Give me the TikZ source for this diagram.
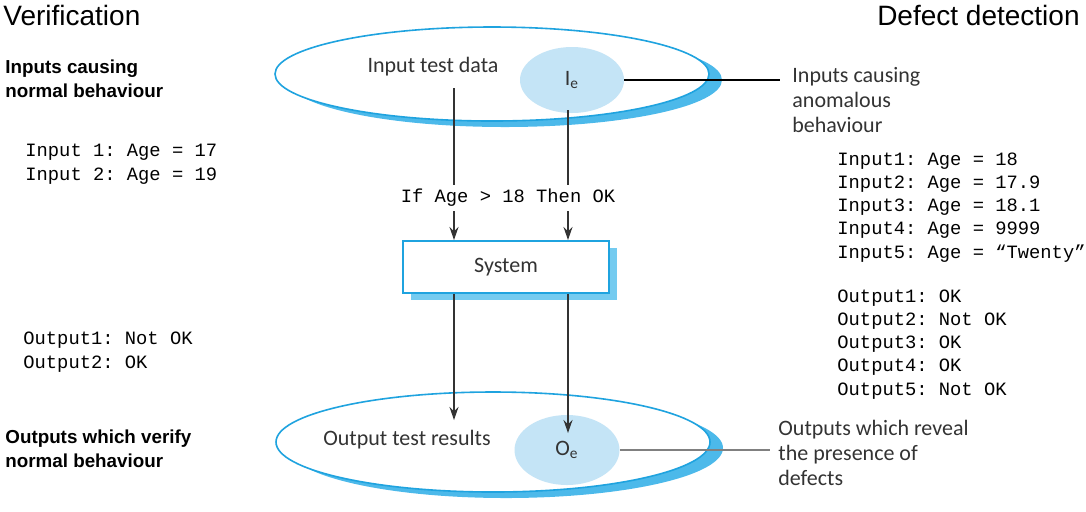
\documentclass[tikz,border=0pt]{standalone}
\usepackage{fontspec}
\setmainfont{Liberation Sans}
\setmonofont{Liberation Mono}
\newfontfamily\figfont{Carlito}
\usepackage{tikz}
\usetikzlibrary{arrows.meta,positioning,shapes.geometric,shadows}
\definecolor{edgeBlue}{HTML}{1FA3DF}
\definecolor{shadeBlue}{HTML}{4CB9EA}
\definecolor{boxShade}{HTML}{74CBF0}
\definecolor{subBlue}{HTML}{C4E4F6}
\definecolor{labelGrey}{HTML}{333333}

\begin{document}
\begin{tikzpicture}[x=0.5pt, y=-0.5pt,
  setell/.style={ellipse, draw=edgeBlue, line width=0.8pt, fill=white, inner sep=0pt,
    general shadow={shadow xshift=6.5pt, shadow yshift=-3pt, fill=shadeBlue}},
  subset/.style={ellipse, fill=subBlue, inner sep=0pt, font=\figfont\fontsize{11}{12}\selectfont,
    text=labelGrey},
  lbl/.style={font=\figfont\fontsize{11}{12.5}\selectfont, text=labelGrey, inner sep=0pt},
  note/.style={lbl, align=left},
  head/.style={font=\fontsize{14}{16}\selectfont, inner sep=0pt},
  case/.style={font=\bfseries\fontsize{9.4}{12}\selectfont, align=left, inner sep=0pt},
  data/.style={font=\ttfamily\fontsize{9.4}{11.6}\selectfont, align=left, inner sep=0pt},
  flow/.style={-{Stealth[length=6.5pt,width=4.5pt]}, line width=0.7pt, labelGrey},
]
\useasboundingbox (0,0) rectangle (1086,511);
% input and output domains
\node[setell, minimum width=217pt, minimum height=47pt] (inset) at (492,74) {};
\node[setell, minimum width=217pt, minimum height=50pt] (outset) at (493,442) {};
\node[subset, minimum width=52pt, minimum height=33pt] (ie) at (572,80) {I\textsubscript{e}};
\node[subset, minimum width=52.5pt, minimum height=35pt] (oe) at (567,450) {O\textsubscript{e}};
\node[lbl] (intext) at (433,67) {Input test data};
\node[lbl] (outtext) at (407,440) {Output test results};
\node[lbl, draw=edgeBlue, line width=1pt, fill=white, minimum width=103pt, minimum height=26pt,
  general shadow={shadow xshift=4pt, shadow yshift=-3.5pt, fill=boxShade}] (sys) at (506,267) {System};
% flow through the system
\coordinate (ruleL) at (454,88);
\coordinate (ruleR) at (568,110);
\coordinate (tipL) at (454,420);
\coordinate (tipR) at (568,433);
\draw[flow] (ruleL) -- (ruleL |- sys.north);
\draw[flow] (ruleR) -- (ruleR |- sys.north);
\draw[flow] (sys.south -| tipL) -- (tipL);
\draw[flow] (sys.south -| tipR) -- (tipR);
\node[data, fill=white, inner xsep=1pt, inner ysep=2pt] (rule) at (508,198) {If Age > 18 Then OK};
% callouts (base = last line)
\node[note, anchor=base west] (anomal) at (792,132) {Inputs causing\\anomalous\\behaviour};
\node[note, anchor=base west] (reveal) at (778,485) {Outputs which reveal\\the presence of\\defects};
\draw[line width=0.8pt] (ie.east) -- ([xshift=-6pt]ie.east -| anomal.west);
\draw[line width=1pt, gray] (oe.east) -- ([xshift=-4pt]oe.east -| reveal.west);
% side columns
\node[head, anchor=base west] (verif) at (3,25) {Verification};
\node[head, anchor=base east] (defect) at (1080,25) {Defect detection};
\node[case, anchor=base west] (normin) at (5,97) {Inputs causing\\normal behaviour};
\node[case, anchor=base west] (normout) at (5,467) {Outputs which verify\\normal behaviour};
\node[data, anchor=base west] (agesok) at (25,180) {Input 1: Age = 17\\Input 2: Age = 19};
\node[data, anchor=base west] (resok) at (23,368) {Output1: Not OK\\Output2: OK};
\node[data, anchor=base west] (agesbad) at (837,258)
  {Input1: Age = 18\\Input2: Age = 17.9\\Input3: Age = 18.1\\Input4: Age = 9999\\Input5: Age = “Twenty”};
\node[data, anchor=base west] (resbad) at (837,395)
  {Output1: OK\\Output2: Not OK\\Output3: OK\\Output4: OK\\Output5: Not OK};
\end{tikzpicture}
\end{document}
